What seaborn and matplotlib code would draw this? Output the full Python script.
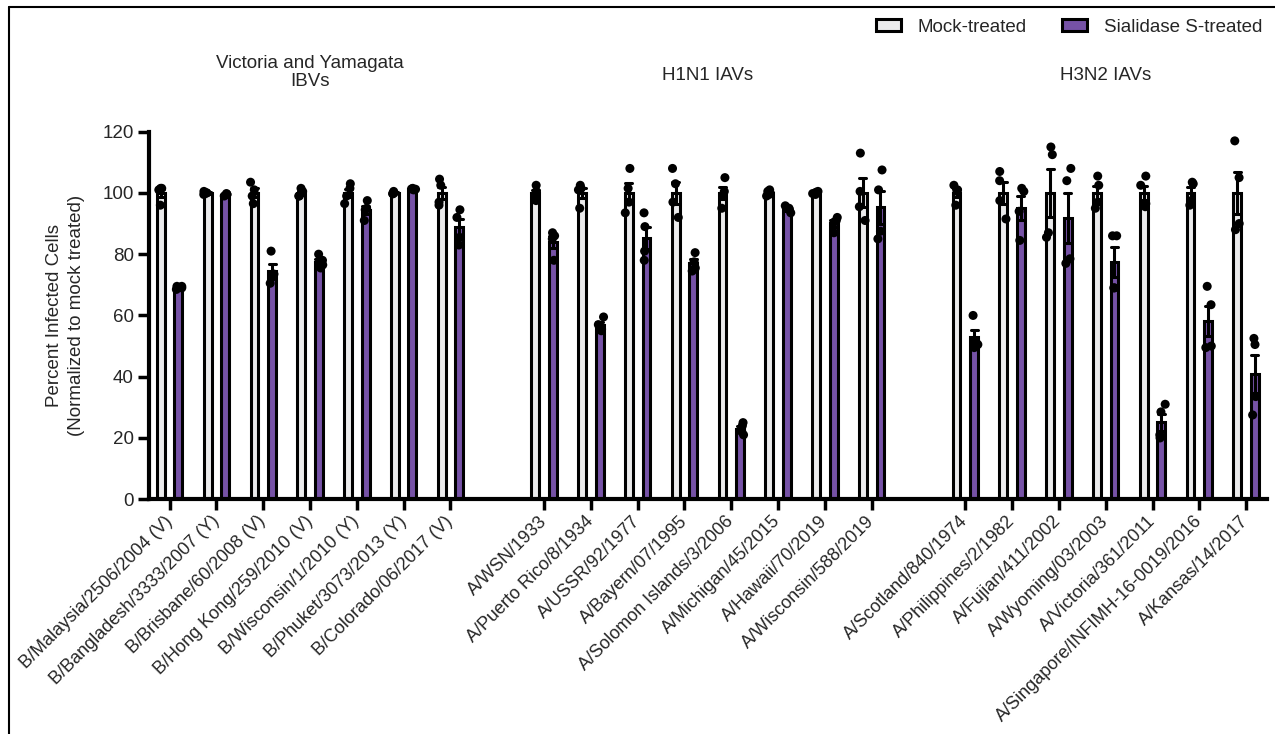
import numpy as np
import pandas as pd
import matplotlib
matplotlib.use("Agg")
import matplotlib.pyplot as plt
import seaborn as sns
from matplotlib.lines import Line2D

# strains, grouped
ibv_strains = ["B/Malaysia/2506/2004 (V)", "B/Bangladesh/3333/2007 (Y)", "B/Brisbane/60/2008 (V)",
               "B/Hong Kong/259/2010 (V)", "B/Wisconsin/1/2010 (Y)", "B/Phuket/3073/2013 (Y)",
               "B/Colorado/06/2017 (V)"]
h1n1_strains = ["A/WSN/1933", "A/Puerto Rico/8/1934", "A/USSR/92/1977", "A/Bayern/07/1995",
                "A/Solomon Islands/3/2006", "A/Michigan/45/2015", "A/Hawaii/70/2019",
                "A/Wisconsin/588/2019"]
h3n2_strains = ["A/Scotland/840/1974", "A/Philippines/2/1982", "A/Fujian/411/2002",
                "A/Wyoming/03/2003", "A/Victoria/361/2011", "A/Singapore/INFIMH-16-0019/2016",
                "A/Kansas/14/2017"]

# replicate values (percent infected, normalized to mock)
mock_vals = [
    [101.5, 101.5, 101, 96], [100.5, 100, 99.5, 100], [103.5, 101, 99, 96.5],
    [101.5, 100.5, 99, 99], [103, 101.5, 99, 96.5], [100.5, 100, 99.8, 99.7],
    [104.5, 102.5, 97, 96],
    [102.5, 100.5, 99.5, 97.5], [102.5, 101.5, 101, 95], [108, 101.5, 97, 93.5],
    [108, 103, 97, 92], [105, 100.5, 99.5, 95], [101, 100.5, 99.5, 99],
    [100.5, 100.2, 99.8, 99.5], [113, 100.5, 95.5, 91],
    [102.5, 101, 100.5, 96], [107, 104, 97.5, 91.5], [115, 112.5, 87, 85.5],
    [105.5, 102.5, 97, 95], [105.5, 102.5, 96.5, 95.5], [103.5, 103, 97.5, 96],
    [117, 105, 90, 88],
]
sia_vals = [
    [69.5, 69, 68.5, 69.5], [99.5, 99, 99.5, 99.8], [81, 73.5, 72.5, 70.5],
    [80, 78, 76.5, 75.5], [97.5, 95, 94.5, 91], [101.5, 101.2, 101, 101.3],
    [94.5, 92, 85.5, 83],
    [87, 86, 85, 78], [59.5, 57, 55.5, 55], [93.5, 89, 81, 78],
    [80.5, 77.5, 75.5, 74.5], [25, 24, 22, 21], [95.8, 95, 94.5, 93.5],
    [92, 91, 90.5, 87], [107.5, 101, 87.5, 85],
    [60, 51.5, 50.5, 49.5], [101.5, 100.5, 94, 84.5], [108, 104, 78.5, 77],
    [86, 86, 69, 69], [31, 28.5, 21, 20], [69.5, 63.5, 50, 49.5],
    [52.5, 50.5, 33.5, 27.5],
]
treatments = ["Mock-treated", "Sialidase S-treated"]
group_titles = ["Victoria and Yamagata\nIBVs", "H1N1 IAVs", "H3N2 IAVs"]

strains = ibv_strains + h1n1_strains + h3n2_strains
rows = []
for s, m, v in zip(strains, mock_vals, sia_vals):
    for x in m:
        rows.append((s, treatments[0], x))
    for x in v:
        rows.append((s, treatments[1], x))
df = pd.DataFrame(rows, columns=["strain", "treatment", "value"])

# one empty slot between groups
order = ibv_strains + [" "] + h1n1_strains + ["  "] + h3n2_strains
real_pos = [i for i, s in enumerate(order) if s.strip()]

FS = 13.5
sns.set_style("white")
plt.rcParams["font.family"] = ["Liberation Sans", "DejaVu Sans"]
plt.rcParams["font.size"] = FS

fig = plt.figure(figsize=(12.75, 7.34), dpi=100)
ax = fig.add_axes([0.1169, 0.3199, 0.8766, 0.5007])

pal = {"Mock-treated": "#ebebec", "Sialidase S-treated": "#7652a6"}
sns.barplot(data=df, x="strain", y="value", hue="treatment", order=order,
            hue_order=treatments, palette=pal, errorbar="se", width=0.75, gap=0.55,
            edgecolor="black", linewidth=2.2, saturation=1,
            err_kws={"color": "black", "linewidth": 2.2}, capsize=0.3, ax=ax)
np.random.seed(3)
sns.stripplot(data=df, x="strain", y="value", hue="treatment", order=order,
              hue_order=treatments, dodge=True, jitter=0.15,
              palette={t: "black" for t in treatments}, size=6.5, legend=False, ax=ax)

ax.get_legend().remove()
ax.set_xlim(-0.44, len(order) - 1 + 0.44)
ax.set_ylim(0, 120)
ax.set_yticks(range(0, 121, 20))
ax.set_xticks(real_pos)
ax.set_xticklabels(strains, rotation=45, ha="right", rotation_mode="anchor", va="center")
ax.set_xlabel("")
ax.set_ylabel("")
for side in ["top", "right"]:
    ax.spines[side].set_visible(False)
for side in ["left", "bottom"]:
    ax.spines[side].set_linewidth(3)
    ax.spines[side].set_color("black")
ax.tick_params(axis="both", length=8, width=2.5, color="black", labelsize=13, pad=3,
               direction="out", bottom=True, left=True)
ax.tick_params(axis="y", labelsize=FS)
ax.tick_params(axis="x", pad=6)

# group titles
centers = [3, 11.5, 20]
ys = [139.3, 138.4, 138.4]
for c, y, t in zip(centers, ys, group_titles):
    ax.text(c, y, t, ha="center", va="center", fontsize=FS, linespacing=1.05, clip_on=False)

fig.text(65.5 / 1275, 1 - 315 / 734, "Percent Infected Cells\n(Normalized to mock treated)",
         rotation=90, ha="center", va="center", fontsize=FS, multialignment="center",
         linespacing=1.4)

# legend
handles = [plt.Rectangle((0, 0), 1, 1, facecolor=pal[t], edgecolor="black", linewidth=2.2)
           for t in treatments]
fig.legend(handles, treatments, loc="center right", bbox_to_anchor=(1262 / 1275, 1 - 27 / 734),
           ncol=2, frameon=False, fontsize=FS, handlelength=1.3, handleheight=0.6,
           handletextpad=0.9, columnspacing=1.9, borderaxespad=0, borderpad=0)

# cropped frame around the panel
fig.add_artist(Line2D([9 / 1275, 1], [1 - 7 / 734, 1 - 7 / 734], color="black", linewidth=1.5,
                      transform=fig.transFigure))
fig.add_artist(Line2D([9 / 1275, 9 / 1275], [0, 1 - 7 / 734], color="black", linewidth=1.5,
                      transform=fig.transFigure))

fig.savefig("out.png", dpi=100)
